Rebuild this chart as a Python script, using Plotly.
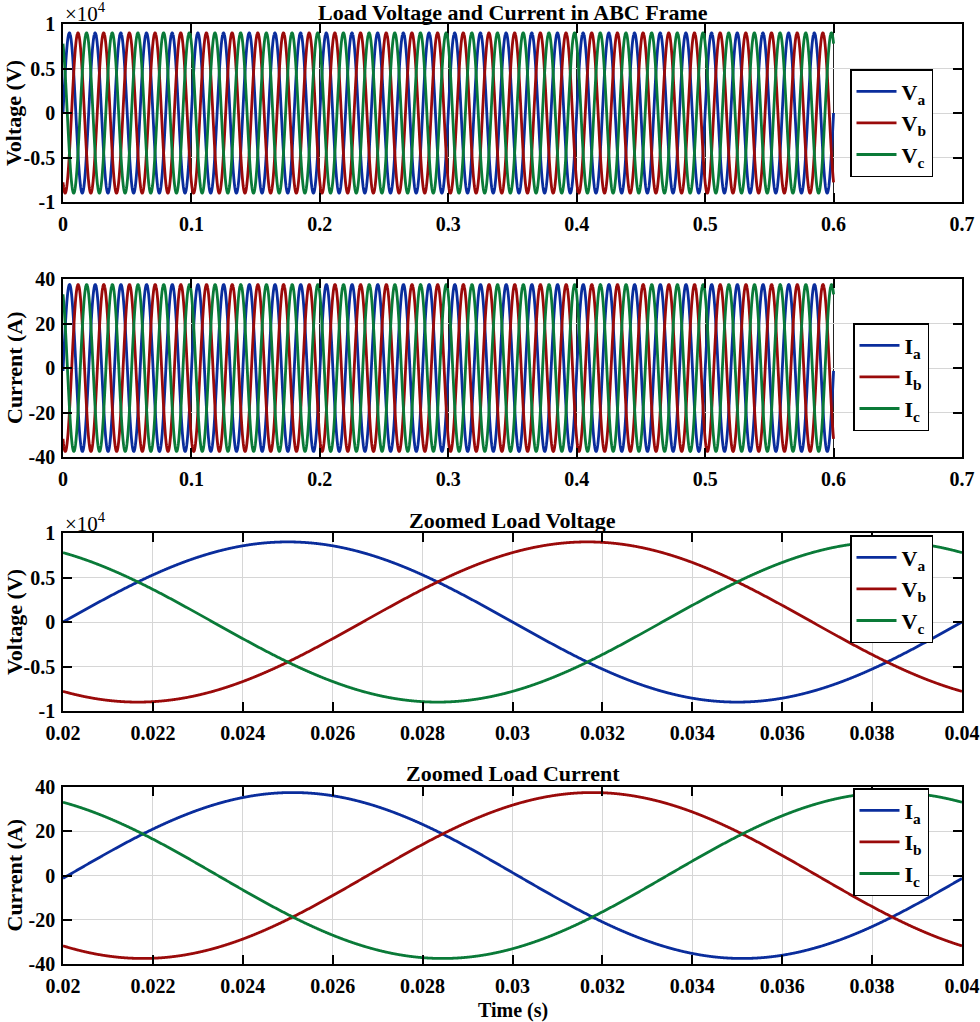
import numpy as np
import plotly.graph_objects as go

# ---------------- data ----------------
FREQ_HZ = 50.0
V_AMPLITUDE = 9000.0          # V (peak ~0.9e4)
I_AMPLITUDE = 37.5            # A (peak ~37.5)
PHASE_DEG = [0.0, -120.0, 120.0]   # phases a, b, c
I_LAG_DEG = 2.0               # current lag behind voltage
T_END = 0.6
DT_FULL = 5e-5
DT_ZOOM = 1e-5
ZOOM_RANGE = [0.02, 0.04]

V_NAMES = ["V<sub>a</sub>", "V<sub>b</sub>", "V<sub>c</sub>"]
I_NAMES = ["I<sub>a</sub>", "I<sub>b</sub>", "I<sub>c</sub>"]
COLORS = ["#0a2d9c", "#9a0a0a", "#0a7a38"]

FULL_X_TICKS = [0, 0.1, 0.2, 0.3, 0.4, 0.5, 0.6, 0.7]
FULL_X_TEXT = ["0", "0.1", "0.2", "0.3", "0.4", "0.5", "0.6", "0.7"]
ZOOM_X_TICKS = [0.02, 0.022, 0.024, 0.026, 0.028, 0.03, 0.032, 0.034, 0.036, 0.038, 0.04]
ZOOM_X_TEXT = ["0.02", "0.022", "0.024", "0.026", "0.028", "0.03", "0.032", "0.034", "0.036", "0.038", "0.04"]
V_TICKS = [-10000, -5000, 0, 5000, 10000]
V_TEXT = ["-1", "-0.5", "0", "0.5", "1"]
I_TICKS = [-40, -20, 0, 20, 40]
I_TEXT = ["-40", "-20", "0", "20", "40"]

w = 2 * np.pi * FREQ_HZ
t_full = np.arange(0, T_END + DT_FULL / 2, DT_FULL)
t_zoom = np.arange(ZOOM_RANGE[0], ZOOM_RANGE[1] + DT_ZOOM / 2, DT_ZOOM)


def volts(t):
    return [V_AMPLITUDE * np.sin(w * t + np.deg2rad(p)) for p in PHASE_DEG]


def amps(t):
    return [I_AMPLITUDE * np.sin(w * t + np.deg2rad(p - I_LAG_DEG)) for p in PHASE_DEG]


# ---------------- layout helpers ----------------
W, H = 980, 1022
L, R = 63, 962
FONT = "Liberation Serif"
plots_px = [(24, 202), (279, 457), (533, 711), (787, 964)]


def dom(top, bot):
    return [1 - bot / H, 1 - top / H]


def px_x(x):
    return x / W


def px_y(y):
    return 1 - y / H


fig = go.Figure()

series_sets = [
    (t_full, volts(t_full), V_NAMES),
    (t_full, amps(t_full), I_NAMES),
    (t_zoom, volts(t_zoom), V_NAMES),
    (t_zoom, amps(t_zoom), I_NAMES),
]
for k, (xs, data, names) in enumerate(series_sets):
    axn = "" if k == 0 else str(k + 1)
    for j in range(3):
        fig.add_trace(go.Scatter(
            x=xs, y=data[j], mode="lines", name=names[j],
            line=dict(color=COLORS[j], width=2.8, simplify=False),
            xaxis="x" + axn, yaxis="y" + axn,
            legend="legend" + axn,
        ))

axis_common = dict(
    showline=True, linecolor="black", linewidth=1.5, mirror="ticks",
    ticks="inside", ticklen=9, tickwidth=1.5, tickcolor="black",
    zeroline=False, automargin=False,
    tickfont=dict(family=FONT, size=20, color="black", weight="bold"),
)

layout = dict(
    width=W, height=H, paper_bgcolor="white", plot_bgcolor="white",
    margin=dict(l=0, r=0, t=0, b=0), showlegend=True,
    font=dict(family=FONT, color="black"),
)

legend_px = [(850, 69, 944), (853, 323, 942), (850, 535, 944), (853, 788, 942)]

for k, (top, bot) in enumerate(plots_px):
    axn = "" if k == 0 else str(k + 1)
    zoom = k >= 2
    xa = dict(axis_common)
    xa.update(
        domain=[L / W, R / W], anchor="y" + axn,
        range=ZOOM_RANGE if zoom else [0, 0.7],
        tickvals=ZOOM_X_TICKS if zoom else FULL_X_TICKS,
        ticktext=ZOOM_X_TEXT if zoom else FULL_X_TEXT,
        showgrid=True,
        gridcolor="#d6d6d6" if zoom else "#222222",
        gridwidth=1, ticklabelstandoff=3,
    )
    ya = dict(axis_common)
    isv = k in (0, 2)
    ya.update(
        domain=dom(top, bot), anchor="x" + axn,
        range=[-10000, 10000] if isv else [-40, 40],
        tickvals=V_TICKS if isv else I_TICKS,
        ticktext=V_TEXT if isv else I_TEXT,
        showgrid=True, gridcolor="#d6d6d6", gridwidth=1,
        ticklabelstandoff=2,
    )
    layout["xaxis" + axn] = xa
    layout["yaxis" + axn] = ya
    lx, ly, rx = legend_px[k]
    layout["legend" + axn] = dict(
        x=px_x(lx), y=px_y(ly), xanchor="left", yanchor="top",
        xref="paper", yref="paper",
        bgcolor="white", bordercolor="black", borderwidth=1.5,
        font=dict(family=FONT, size=22, color="black", weight="bold"),
        tracegroupgap=0, itemwidth=40,
    )

fig.update_layout(**layout)

ann = []
titles = [("Load Voltage and Current in ABC Frame", 12),
          ("Zoomed Load Voltage", 520),
          ("Zoomed Load Current", 773)]
for txt, yy in titles:
    ann.append(dict(text=txt, x=px_x((L + R) / 2), y=px_y(yy), xref="paper", yref="paper",
                    showarrow=False, xanchor="center", yanchor="middle",
                    font=dict(family=FONT, size=22, color="black", weight="bold")))
ylabels = ["Voltage (V)", "Current (A)", "Voltage (V)", "Current (A)"]
for k, (top, bot) in enumerate(plots_px):
    ann.append(dict(text=ylabels[k], x=px_x(14), y=px_y((top + bot) / 2), xref="paper", yref="paper",
                    showarrow=False, textangle=-90, xanchor="center", yanchor="middle",
                    font=dict(family=FONT, size=22, color="black", weight="bold")))
for yy in (13, 522):
    ann.append(dict(text="×10<sup>4</sup>", x=px_x(63), y=px_y(yy), xref="paper", yref="paper",
                    showarrow=False, xanchor="left", yanchor="middle",
                    font=dict(family=FONT, size=21, color="black")))
ann.append(dict(text="Time (s)", x=px_x((L + R) / 2), y=px_y(1010), xref="paper", yref="paper",
                showarrow=False, xanchor="center", yanchor="middle",
                font=dict(family=FONT, size=20, color="black", weight="bold")))
fig.update_layout(annotations=ann)

fig.write_html("out.html")
